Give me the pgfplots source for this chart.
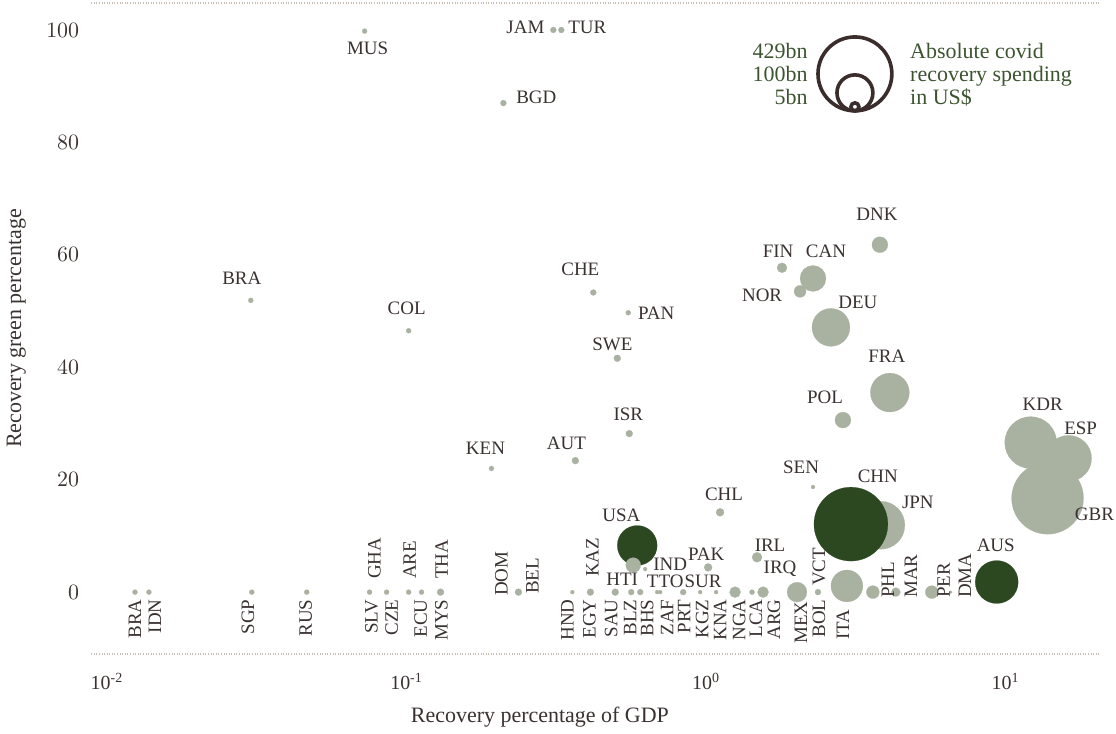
\documentclass[border=0pt]{standalone}
\usepackage{fontspec}
\setmainfont{Liberation Serif}
\usepackage{pgfplots}
\usepackage{pgfplotstable}
\pgfplotsset{compat=1.18}
\definecolor{labc}{HTML}{3A3230}
\definecolor{darkg}{HTML}{2C4820}
\definecolor{lightc}{HTML}{A9B2A0}
\definecolor{legendg}{HTML}{3C5430}
\definecolor{legcirc}{HTML}{3B2D2B}
\definecolor{dotc}{HTML}{C8BDB5}
% x = recovery % of GDP, y = green %, v = absolute spending (bn US$)
% light bubbles (drawn first)
\pgfplotstableread{
x y v
0.01240 0 2.0
0.01380 0 2.0
0.03043 0 2.0
0.04642 0 2.0
0.07525 0 2.0
0.08577 0 2.0
0.1016 0 2.0
0.1122 0 2.0
0.1298 0 3.8
0.07244 99.8 2.0
0.3090 100 2.8
0.3286 100 2.8
0.2105 87.0 2.8
0.03020 51.9 2.0
0.1016 46.5 2.0
0.4201 53.3 2.8
0.5495 49.7 2.0
0.5051 41.6 3.8
0.5538 28.2 3.8
0.3660 23.4 3.8
0.1920 22.0 2.0
1.113 14.2 5.0
2.274 18.7 1.25
1.792 57.7 7.8
2.274 55.8 53
2.058 53.5 11.3
2.610 47.1 113
3.802 61.8 20
4.105 35.5 119
2.862 30.6 20
12.12 26.6 212
13.80 16.7 406
16.22 23.8 166
3.831 11.9 181
2.951 1.1 80
2.011 0 31
2.362 0 2.8
3.603 0 13.2
4.298 0 6.3
5.666 0 13.2
6.557 0 0.7
0.2362 0 3.8
0.3576 0 1.25
0.4107 0 3.8
0.4973 0 3.8
0.5623 0 2.8
0.6026 0 2.8
0.6864 0 1.25
0.7025 0 1.25
0.8382 0 2.8
0.9550 0 1.25
1.0798 0 1.25
1.249 0 9.5
1.423 0 2.0
1.549 0 9.5
1.479 6.2 7.8
1.0155 4.4 5.0
0.6259 4.1 1.25
}\light
% dark bubbles: USA, CHN, AUS
\pgfplotstableread{
x y v
0.5888 8.3 125
3.043 12.1 429
9.333 1.8 145
}\dark
% light bubble on top: HTI
\pgfplotstableread{
x y v
0.5709 4.8 17.6
}\lighttop
% labels: point, offset of the label (px), label text
% horizontal labels, centred
\pgfplotstableread{
x y dx dy lab
0.07244 99.8 3 -17 MUS
0.3090 100 -28 3 JAM
0.3286 100 26 3 TUR
0.2105 87.0 33 6 BGD
0.03020 51.9 -9 22 BRA
0.1016 46.5 -2 22 COL
0.4201 53.3 -13 23 CHE
0.5495 49.7 28 0 PAN
0.5051 41.6 -5 14 SWE
0.5538 28.2 -1 19 ISR
0.3660 23.4 -9 17 AUT
0.1920 22.0 -6 20 KEN
1.113 14.2 4 18 CHL
2.274 18.7 -12 20 SEN
1.792 57.7 -4 17 FIN
2.274 55.8 13 27 CAN
2.058 53.5 -38 -4 NOR
2.610 47.1 27 25 DEU
3.802 61.8 -3 30 DNK
4.105 35.5 -3 36 FRA
2.862 30.6 -18 23 POL
12.12 26.6 12 38 KDR
13.80 16.7 47 -16 GBR
16.22 23.8 12 30 ESP
3.831 11.9 37 23 JPN
0.7025 0 5 11 TTO
0.9550 0 3 11 SUR
1.549 0 17 23 IRQ
1.479 6.2 13 12 IRL
1.0155 4.4 -2 13 PAK
0.6259 4.1 25 5 IND
0.5888 8.3 -16 30 USA
3.043 12.1 27 48 CHN
9.333 1.8 -1 37 AUS
0.5709 4.8 -11 -14 HTI
}\labC
% vertical labels hanging below the point
\pgfplotstableread{
x y dx dy lab
0.01240 0 0 -5 BRA
0.01380 0 6 -5 IDN
0.03043 0 -4 -5 SGP
0.04642 0 -1 -5 RUS
0.07525 0 2 -5 SLV
0.08577 0 5 -5 CZE
0.1122 0 -1 -5 ECU
0.1298 0 1 -5 MYS
2.951 1.1 -4 -21 ITA
2.011 0 4 -7 MEX
2.362 0 1 -5 BOL
0.3576 0 -5 -5 HND
0.4107 0 -1 -5 EGY
0.4973 0 -4 -5 SAU
0.5623 0 -1 -5 BLZ
0.6026 0 7 -5 BHS
0.6864 0 10 -5 ZAF
0.8382 0 1 -5 PRT
0.9550 0 2 -5 KGZ
1.0798 0 4 -5 KNA
1.249 0 4 -5 NGA
1.423 0 4 -5 LCA
1.549 0 11 -5 ARG
}\labE
% vertical labels standing on the point
\pgfplotstableread{
x y dx dy lab
0.07525 0 5 11 GHA
0.1016 0 1 11 ARE
0.1298 0 1 11 THA
2.362 0 1 4 VCT
3.603 0 15 -8 PHL
4.298 0 15 -8 MAR
5.666 0 12 -8 PER
6.557 0 14 -8 DMA
0.2362 0 -17 -6 DOM
0.2362 0 14 -4 BEL
0.4107 0 2 13 KAZ
}\labW

\pgfplotsset{
  bubble/.style={scatter, only marks, mark=*, color=#1,
    point meta=explicit, point meta min=0, point meta max=1000,
    scatter/@pre marker code/.code={%
      \pgfmathsetmacro\msz{0.893*sqrt(\pgfplotspointmetatransformed)}%
      \scope[mark size=\msz pt, fill=#1, draw=#1, line width=0.1pt]},
    scatter/@post marker code/.code={\endscope},
    mark options={fill=#1, draw=#1, line width=0.1pt}},
  lbl/.style={only marks, mark=none, nodes near coords, point meta=explicit symbolic,
    nodes near coords style={anchor=#1, font=\fontsize{9.5}{11}\selectfont, text=labc, inner sep=1pt}},
}

\begin{document}
\begin{tikzpicture}
\begin{axis}[
  name=ax,
  scale only axis, width=505pt, height=326pt,
  xmode=log, log basis x=10,
  xmin=0.00885, xmax=20.57, ymin=-11.0, ymax=104.8,
  axis line style={draw=none},
  tick style={draw=none}, major tick length=0pt, minor tick length=0pt,
  xtick={0.01,0.1,1,10},
  xticklabels={10\textsuperscript{-2},10\textsuperscript{-1},10\textsuperscript{0},10\textsuperscript{1}},
  ytick={0,20,40,60,80,100},
  yticklabel style={font=\fontsize{10.5}{12}\selectfont, text=labc, xshift=-2.5pt},
  xticklabel style={font=\fontsize{10}{12}\selectfont, text=labc, yshift=-6pt},
  xlabel={Recovery percentage of GDP},
  ylabel={Recovery green percentage},
  x label style={at={(axis description cs:0.445,-0.0966)}, anchor=center, font=\fontsize{11}{13}\selectfont, text=labc},
  y label style={at={(axis description cs:-0.0743,0.5)}, anchor=center, font=\fontsize{11}{13}\selectfont, text=labc},
  clip=false,
]
\draw[dotc, line width=0.6pt, dash pattern=on 0.5pt off 0.8pt] (rel axis cs:0,0) -- (rel axis cs:1,0);
\draw[dotc, line width=0.6pt, dash pattern=on 0.5pt off 0.8pt] (rel axis cs:0,1) -- (rel axis cs:1,1);

\addplot[bubble=lightc] table[x=x, y=y, meta=v] {\light};
\addplot[bubble=darkg] table[x=x, y=y, meta=v] {\dark};
\addplot[bubble=lightc] table[x=x, y=y, meta=v] {\lighttop};

\addplot[lbl=center] table[meta=lab, x expr={\thisrow{x}*10^(\thisrow{dx}/300)}, y expr={\thisrow{y}+\thisrow{dy}/5.63}] {\labC};
\addplot[lbl=east, nodes near coords style={rotate=90}] table[meta=lab, x expr={\thisrow{x}*10^(\thisrow{dx}/300)}, y expr={\thisrow{y}+\thisrow{dy}/5.63}] {\labE};
\addplot[lbl=west, nodes near coords style={rotate=90}] table[meta=lab, x expr={\thisrow{x}*10^(\thisrow{dx}/300)}, y expr={\thisrow{y}+\thisrow{dy}/5.63}] {\labW};
\end{axis}

% legend
\draw[legcirc, line width=1.8pt] ([shift={(382.5pt,290.5pt)}]ax.south west) circle[radius=18.5pt];
\draw[legcirc, line width=1.8pt] ([shift={(382.5pt,281pt)}]ax.south west) circle[radius=9pt];
\draw[legcirc, line width=1.8pt] ([shift={(382.5pt,274pt)}]ax.south west) circle[radius=2pt];
\begin{scope}[every node/.style={font=\fontsize{11}{13}\selectfont, text=legendg, inner sep=0pt}]
\node[anchor=base east] at ([shift={(359pt,298pt)}]ax.south west) {429bn};
\node[anchor=base east] at ([shift={(359pt,286.5pt)}]ax.south west) {100bn};
\node[anchor=base east] at ([shift={(359pt,275pt)}]ax.south west) {5bn};
\node[anchor=base west] at ([shift={(410pt,298pt)}]ax.south west) {Absolute covid};
\node[anchor=base west] at ([shift={(410pt,286.5pt)}]ax.south west) {recovery spending};
\node[anchor=base west] at ([shift={(410pt,275pt)}]ax.south west) {in US\$};
\end{scope}
\path ([shift={(-45pt,-40pt)}]ax.south west) rectangle ([shift={(8pt,1.5pt)}]ax.north east);
\end{tikzpicture}
\end{document}
